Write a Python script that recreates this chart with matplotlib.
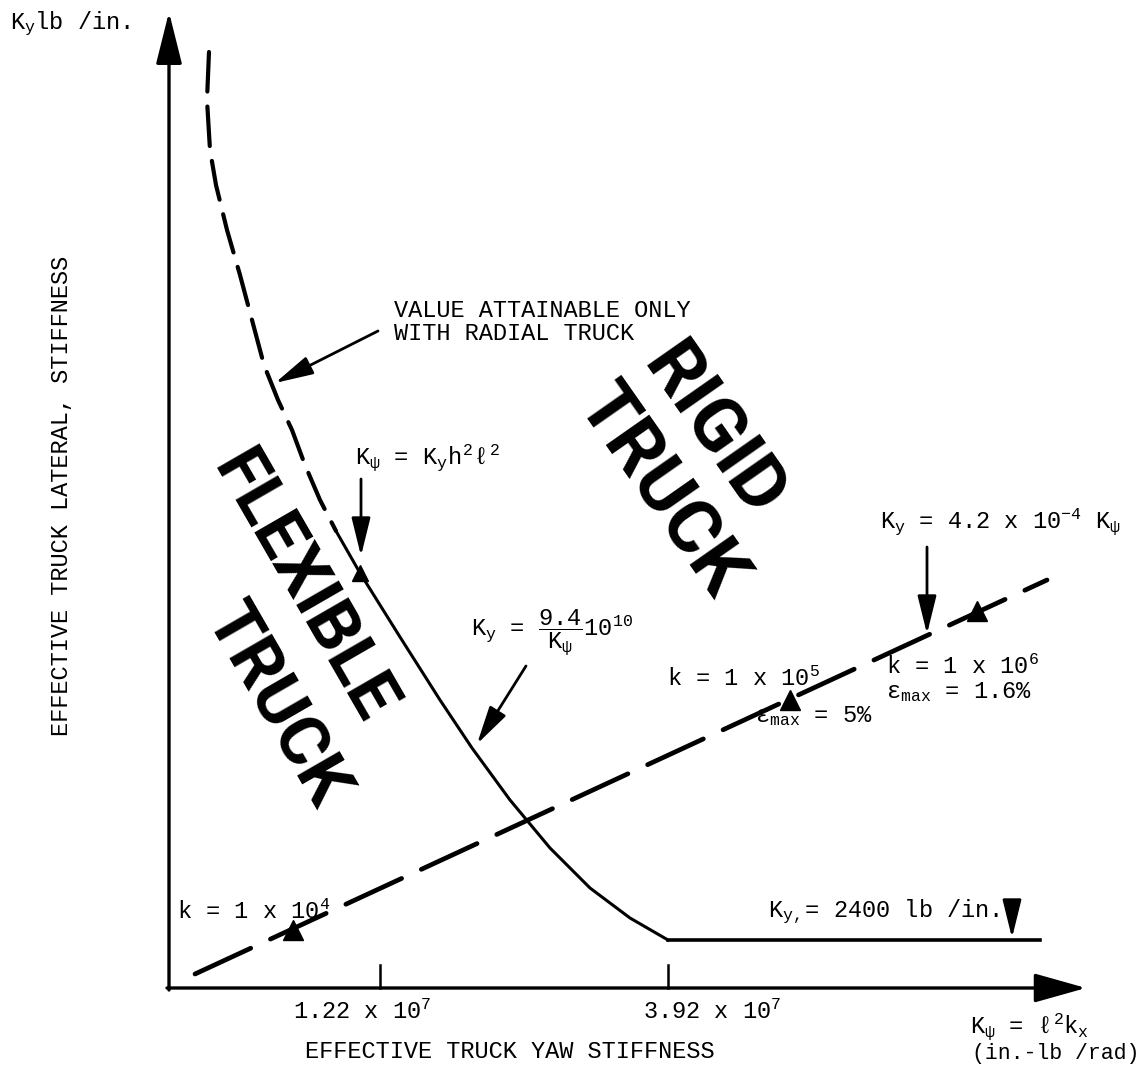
import matplotlib
matplotlib.use("Agg")
import matplotlib.pyplot as plt
from matplotlib import font_manager

# ---------------- data (schematic drawing units, origin at axes corner) ----------------
# dashed part of hyperbola K_psi = K_y h^2 l^2 (radial truck only)
radial_x = [40, 38, 41, 47, 58, 71, 83, 95, 109, 123, 136, 151, 167]
radial_y = [936, 888, 838, 803, 758, 713, 668, 623, 588, 558, 523, 488, 457]
# solid hyperbola K_y = 9.4e10 / K_psi
hyper_x = [167, 191, 231, 271, 303, 341, 381, 421, 461, 499]
hyper_y = [457, 415, 351, 288, 240, 188, 140, 100, 70, 48]
# floor K_y = 2400 lb/in
floor_x = [499, 871]
floor_y = [48, 48]
# line K_y = 4.2e-4 K_psi
prop_x = [26, 878]
prop_y = [14, 408]
# design points (k = 1e4, 1e5, 1e6) and hyperbola start
pts_x = [124, 621, 808]
pts_y = [58, 288, 377]
hyp_pt_x = [191]
hyp_pt_y = [415]
# x ticks
tick_pos = [211, 499]
tick_labels = ["1.22 x 10$^7$", "3.92 x 10$^7$"]

# ---------------- setup ----------------
OX, OY = 169, 988   # pixel location of origin (layout helper)
def at(px, py):
    return px - OX, OY - py

names = {f.name for f in font_manager.fontManager.ttflist}
mono = "Liberation Mono" if "Liberation Mono" in names else "DejaVu Sans Mono"
plt.rcParams["font.family"] = [mono, "DejaVu Sans"]
plt.rcParams["mathtext.fontset"] = "custom"
plt.rcParams["mathtext.rm"] = mono
plt.rcParams["mathtext.it"] = mono
plt.rcParams["mathtext.bf"] = mono + ":bold"
plt.rcParams["mathtext.sf"] = mono

fig = plt.figure(figsize=(11.47, 10.66), dpi=100)
ax = fig.add_axes([0, 0, 1, 1])
ax.set_xlim(-OX, 1147 - OX)
ax.set_ylim(OY - 1066, OY)
ax.axis("off")

FS = 17
K = "black"

# axes with arrows
ax.annotate("", xy=at(169, 12), xytext=at(169, 990),
            arrowprops=dict(arrowstyle="-|>,head_length=1.6,head_width=0.4",
                            lw=2.4, color=K, mutation_scale=20, shrinkA=0, shrinkB=0))
ax.annotate("", xy=at(1086, 988), xytext=at(167, 988),
            arrowprops=dict(arrowstyle="-|>,head_length=1.6,head_width=0.45",
                            lw=2.4, color=K, mutation_scale=20, shrinkA=0, shrinkB=0))
for tp in tick_pos:
    ax.plot([tp, tp], [0, 23], color=K, lw=1.8)
ax.text(*at(293, 1012), tick_labels[0], fontsize=FS, ha="left", va="center")
ax.text(*at(643, 1012), tick_labels[1], fontsize=FS, ha="left", va="center")

# curves
ax.plot(radial_x, radial_y, color=K, lw=3.0, dashes=(9.5, 3.6), dash_capstyle="round")
ax.plot(hyper_x, hyper_y, color=K, lw=2.2, solid_joinstyle="round")
ax.plot(floor_x, floor_y, color=K, lw=2.6)
ax.plot(prop_x, prop_y, color=K, lw=3.4, dashes=(13.0, 4.6), dash_capstyle="round")
ax.plot(pts_x, pts_y, ls="none", marker="^", ms=15, color=K)
ax.plot(hyp_pt_x, hyp_pt_y, ls="none", marker="^", ms=12, color=K)

# annotation arrows
arr = dict(arrowstyle="-|>,head_length=1.3,head_width=0.32", lw=2.0, color=K,
           mutation_scale=18, shrinkA=0, shrinkB=0)
ax.annotate("", xy=at(275, 383), xytext=at(378, 331), arrowprops=arr)
ax.annotate("", xy=at(361, 556), xytext=at(361, 479), arrowprops=arr)
ax.annotate("", xy=at(477, 744), xytext=at(526, 666), arrowprops=arr)
ax.annotate("", xy=at(927, 634), xytext=at(927, 547), arrowprops=arr)
ax.annotate("", xy=at(1012, 938), xytext=at(1012, 903), arrowprops=arr)

# texts
ax.text(*at(10, 24), "$K_y$lb /in.", fontsize=FS, ha="left", va="center")
ax.text(*at(62, 496), "EFFECTIVE TRUCK LATERAL, STIFFNESS", fontsize=FS,
        rotation=90, ha="center", va="center")
ax.text(*at(510, 1052), "EFFECTIVE TRUCK YAW STIFFNESS", fontsize=FS,
        ha="center", va="center")
ax.text(*at(970, 1027), r"$K_\psi$ = $\ell^2k_x$", fontsize=FS, ha="left", va="center")
ax.text(*at(972, 1054), "(in.-lb /rad)", fontsize=15.5, ha="left", va="center")
ax.text(*at(394, 322), "VALUE ATTAINABLE ONLY\nWITH RADIAL TRUCK", fontsize=FS,
        ha="left", va="center", linespacing=1.0)
ax.text(*at(355, 458), r"$K_\psi$ = $K_yh^2\ell^2$", fontsize=FS, ha="left", va="center")
ax.text(*at(471, 632), r"$K_y$ = $\dfrac{9.4}{K_\psi}$10$^{10}$", fontsize=FS,
        ha="left", va="center")
ax.text(*at(880, 522), r"$K_y$ = 4.2 x 10$^{-4}$ $K_\psi$", fontsize=FS,
        ha="left", va="center")
ax.text(*at(667, 679), "k = 1 x 10$^5$", fontsize=FS, ha="left", va="center")
ax.text(*at(886, 667), "k = 1 x 10$^6$", fontsize=FS, ha="left", va="center")
ax.text(*at(886, 692), r"$\varepsilon_{max}$ = 1.6%", fontsize=FS, ha="left", va="center")
ax.text(*at(755, 716), r"$\varepsilon_{max}$ = 5%", fontsize=FS, ha="left", va="center")
ax.text(*at(177, 912), "k = 1 x 10$^4$", fontsize=FS, ha="left", va="center")
ax.text(*at(768, 912), "$K_{y,}$= 2400 lb /in.", fontsize=FS, ha="left", va="center")

# big stencil labels
stencil = ["Roboto", "DejaVu Sans"]
big = dict(family=stencil, weight="bold", ha="center", va="center",
           rotation_mode="anchor", color=K)
ax.text(*at(712, 432), "RIGID", rotation=-55, fontsize=54, **big)
ax.text(*at(660, 492), "TRUCK", rotation=-55, fontsize=54, **big)
ax.text(*at(303, 588), "FLEXIBLE", rotation=-60, fontsize=50, **big)
ax.text(*at(276, 706), "TRUCK", rotation=-60, fontsize=50, **big)

fig.savefig("out.png", dpi=100)
